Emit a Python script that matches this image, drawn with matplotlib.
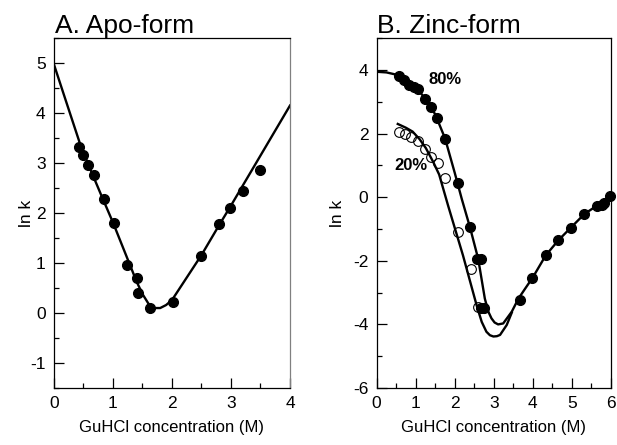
import matplotlib
matplotlib.use("Agg")
import matplotlib.pyplot as plt
from matplotlib.ticker import MultipleLocator

plt.rcParams['font.family'] = ['Liberation Sans', 'DejaVu Sans']
plt.rcParams['axes.unicode_minus'] = False

# Panel A: Apo-form data
apo_x = [0.42, 0.50, 0.58, 0.68, 0.84, 1.01, 1.24, 1.40, 1.42, 1.62, 2.01, 2.49, 2.80, 2.99, 3.20, 3.49]
apo_y = [3.33, 3.17, 2.97, 2.76, 2.29, 1.80, 0.96, 0.71, 0.41, 0.10, 0.22, 1.14, 1.78, 2.11, 2.44, 2.87]
apo_fit_x = [0.0, 0.2, 0.44, 0.6, 0.8, 1.0, 1.2, 1.4, 1.5, 1.6, 1.7, 1.8, 1.9, 2.0, 2.2, 2.5, 2.8, 3.0, 3.5, 4.0]
apo_fit_y = [4.97, 4.25, 3.39, 2.92, 2.36, 1.81, 1.22, 0.63, 0.38, 0.19, 0.10, 0.10, 0.16, 0.26, 0.62, 1.16, 1.76, 2.15, 3.15, 4.15]

# Panel B: Zinc-form data
zn80_x = [0.58, 0.71, 0.84, 0.96, 1.07, 1.25, 1.39, 1.54, 1.75, 2.07, 2.39, 2.57, 2.66,
          2.68, 2.76, 3.67, 3.99, 4.33, 4.65, 4.98, 5.32, 5.65, 5.76, 5.83, 5.97]
zn80_y = [3.81, 3.68, 3.54, 3.47, 3.40, 3.10, 2.84, 2.48, 1.83, 0.43, -0.95, -1.94, -1.94,
          -3.47, -3.47, -3.24, -2.54, -1.83, -1.36, -0.97, -0.53, -0.29, -0.24, -0.19, 0.02]
zn20_x = [0.56, 0.73, 0.88, 1.05, 1.25, 1.40, 1.58, 1.75, 2.07, 2.41, 2.59]
zn20_y = [2.04, 1.98, 1.88, 1.75, 1.52, 1.27, 1.07, 0.60, -1.10, -2.27, -3.45]

fit80_x = [0.0, 0.25, 0.5, 0.75, 1.0, 1.25, 1.5, 1.75, 2.0, 2.18, 2.39, 2.6, 2.77, 2.86, 2.94,
           3.02, 3.11, 3.24, 3.46, 3.63, 3.8, 4.0, 4.33, 4.65, 4.98, 5.32, 5.65, 6.0]
fit80_y = [3.94, 3.92, 3.85, 3.65, 3.44, 3.10, 2.60, 1.85, 0.76, -0.06, -0.95, -1.94, -3.19, -3.60, -3.81,
           -3.94, -4.00, -3.97, -3.60, -3.19, -2.88, -2.52, -1.83, -1.36, -0.95, -0.53, -0.26, 0.05]
fit20_x = [0.54, 0.75, 0.92, 1.1, 1.26, 1.45, 1.6, 1.83, 2.21, 2.56, 2.69, 2.81, 2.9, 2.99,
           3.08, 3.16, 3.33, 3.46]
fit20_y = [2.30, 2.18, 2.06, 1.82, 1.54, 1.10, 0.71, -0.27, -1.83, -3.40, -3.92, -4.23, -4.34, -4.38,
           -4.37, -4.33, -4.02, -3.63]

fig = plt.figure(figsize=(6.17, 4.45), dpi=100)
axA = fig.add_axes([0.0875, 0.128, 0.3825, 0.7865])
axB = fig.add_axes([0.6105, 0.128, 0.3797, 0.7865])

lw = 1.7
for ax in (axA, axB):
    ax.tick_params(which='major', direction='in', length=7, width=0.9, labelsize=12.5, pad=6)
    ax.tick_params(which='minor', direction='in', length=3.5, width=0.9)
    for s in ax.spines.values():
        s.set_linewidth(0.9)
    ax.set_xlabel('GuHCl concentration (M)', fontsize=12, labelpad=6)
    ax.set_ylabel('ln k', fontsize=12.5)

axA.yaxis.set_label_coords(-0.085, 0.5)
axB.yaxis.set_label_coords(-0.135, 0.5)

# Panel A
axA.plot(apo_fit_x, apo_fit_y, color='black', lw=lw, zorder=2)
axA.plot(apo_x, apo_y, 'o', color='black', ms=7, zorder=3)
axA.set_xlim(0, 4)
axA.set_ylim(-1.5, 5.5)
axA.xaxis.set_major_locator(MultipleLocator(1))
axA.xaxis.set_minor_locator(MultipleLocator(0.5))
axA.yaxis.set_major_locator(MultipleLocator(1))
axA.yaxis.set_minor_locator(MultipleLocator(0.5))
axA.spines['right'].set_color('#808080')
axA.set_title('A. Apo-form', fontsize=19, loc='left', pad=3, x=0.005)

# Panel B
axB.plot(fit80_x, fit80_y, color='black', lw=lw, zorder=2)
axB.plot(fit20_x, fit20_y, color='black', lw=lw, zorder=2)
axB.plot(zn20_x, zn20_y, 'o', mfc='none', mec='black', mew=0.8, ms=7, zorder=3)
axB.plot(zn80_x, zn80_y, 'o', color='black', ms=7, zorder=3, clip_on=False)
axB.set_xlim(0, 6)
axB.set_ylim(-6, 5)
axB.xaxis.set_major_locator(MultipleLocator(1))
axB.xaxis.set_minor_locator(MultipleLocator(0.5))
axB.set_yticks([-6, -4, -2, 0, 2, 4])
axB.yaxis.set_minor_locator(MultipleLocator(1))
axB.text(1.74, 3.71, '80%', fontsize=12, fontweight='bold', ha='center', va='center')
axB.text(0.88, 0.98, '20%', fontsize=12, fontweight='bold', ha='center', va='center')
axB.set_title('B. Zinc-form', fontsize=19, loc='left', pad=3, x=0.0)

fig.savefig('out.png', dpi=100)
